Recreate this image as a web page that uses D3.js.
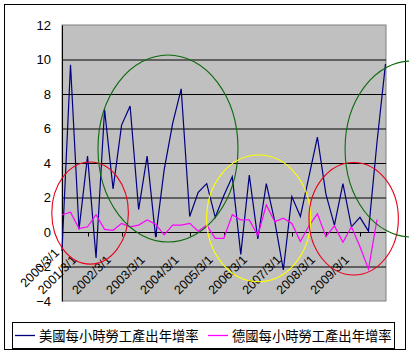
<!DOCTYPE html>
<html>
<head>
<meta charset="utf-8">
<script src="https://cdn.jsdelivr.net/npm/d3@7"></script>
<style>
  body { margin: 0; background: #fff; }
  .text { font-family: "Liberation Sans", Arial, sans-serif; fill: #000; }
</style>
</head>
<body>
<div class="chart"></div>
<script>
// quarterly yoy growth of labour output per hour
var usVals = [-1.1, 9.7, 0.15, 4.4, -1.5, 7.1, 2.5, 6.2, 7.3, 1.3,
              4.4, -0.3, 3.6, 6.3, 8.3, 0.9, 2.3, 2.8, 0.85, 2.1,
              3.2, -1.3, 3.3, -0.4, 2.8, 0.6, -2.2, 2.05, 0.9, 3.2,
              5.5, 2.2, 0.4, 2.8, 0.3, 0.85, 0.05, 5.2, 9.75];
var deVals = [1.0, 1.15, 0.2, 0.3, 1.0, 0.15, 0.1, 0.5, 0.3, 0.4,
              0.7, 0.45, -0.17, 0.4, 0.4, 0.5, 0.05, 0.4, -0.37, -0.37,
              1.0, 0.7, 0.7, -0.2, 1.57, 0.6, 0.8, 0.5, -0.55, 0.35,
              1.05, -0.27, 0.35, -0.6, 0.3, -0.85, -2.15, 0.72];
var xTickLabels = ['2000/3/1', '2001/3/1', '2002/3/1', '2003/3/1', '2004/3/1',
                   '2005/3/1', '2006/3/1', '2007/3/1', '2008/3/1', '2009/3/1'];
var xTickIdx = [0, 3, 7, 11, 15, 19, 23, 27, 31, 35];
var yTicks = [-4, -2, 0, 2, 4, 6, 8, 10, 12];
var seriesNames = ['美國每小時勞工產出年增率', '德國每小時勞工產出年增率'];
// hand drawn marks: centre (category, value), radius (categories, value units)
var markCx = [3.3, 12.45, 23.1, 34.26, 41.0];
var markCy = [1.1, 4.84, 0.79, 0.77, 4.81];
var markRx = [4.5, 8.22, 6.11, 5.25, 7.75];
var markRy = [2.96, 5.42, 3.67, 3.26, 5.1];
var markColor = ['#e8001c', '#0c6a0c', '#ffff00', '#e8001c', '#0c6a0c'];

var width = 409, height = 351;
var margin = { top: 25, left: 62, right: 23, bottom: 50 };
var plotR = width - margin.right, plotB = height - margin.bottom;

var svg = d3.select('.chart').append('svg')
    .attr('width', width)
    .attr('height', height);

// chart area frame
svg.append('rect')
    .attr('x', 4.5).attr('y', 4.5)
    .attr('width', 401).attr('height', 345)
    .attr('fill', '#fff').attr('stroke', '#000');

var x = d3.scaleLinear().domain([0, usVals.length - 1]).range([margin.left, plotR - 0.5]);
var y = d3.scaleLinear().domain([-4, 12]).range([plotB, margin.top]);

// plot area
svg.append('rect')
    .attr('x', margin.left).attr('y', margin.top)
    .attr('width', plotR - margin.left).attr('height', plotB - margin.top)
    .attr('fill', '#c0c0c0').attr('stroke', '#808080');

// gridlines
svg.append('g')
    .attr('class', 'grid')
    .attr('transform', 'translate(' + margin.left + ',0)')
    .call(d3.axisLeft(y).tickValues(yTicks.filter(function(v) { return v > -4 && v < 12; }))
        .tickSize(-(plotR - margin.left)).tickFormat(''))
    .call(function(g) {
        g.select('.domain').remove();
        g.selectAll('line').attr('stroke', '#000');
    });

// y axis
svg.append('g')
    .attr('transform', 'translate(' + margin.left + ',0)')
    .call(d3.axisLeft(y).tickValues(yTicks).tickSize(0).tickPadding(11))
    .call(function(g) {
        g.select('.domain').attr('stroke', '#000');
        g.selectAll('text').attr('class', 'text')
            .style('font-size', '13px');
    });

// category axis crossing at 0
var y0 = Math.round(y(0)) + 0.5;
svg.append('line')
    .attr('x1', margin.left).attr('x2', plotR)
    .attr('y1', y0).attr('y2', y0)
    .attr('stroke', '#000');

svg.selectAll('.xtick')
    .data(xTickIdx.slice(1))
    .enter()
    .append('line')
    .attr('class', 'xtick')
    .attr('x1', function(d) { return Math.round(x(d)) + 0.5; })
    .attr('x2', function(d) { return Math.round(x(d)) + 0.5; })
    .attr('y1', y0).attr('y2', y0 + 4)
    .attr('stroke', '#000');

// first label is pushed inside the chart frame
svg.selectAll('.xlabel')
    .data(xTickIdx)
    .enter()
    .append('text')
    .attr('class', 'text xlabel')
    .attr('text-anchor', 'end')
    .style('font-size', '12.5px')
    .attr('transform', function(d, i) {
        var lx = i === 0 ? x(d) - 2 : x(d) - 10;
        var ly = i === 0 ? y0 + 21 : y0 + 28;
        return 'translate(' + lx + ',' + ly + ') rotate(-45)';
    })
    .text(function(d, i) { return xTickLabels[i]; });

// lines
var line = d3.line()
    .x(function(d, i) { return x(i); })
    .y(function(d) { return y(d); });

svg.append('path')
    .datum(usVals)
    .attr('d', line)
    .attr('fill', 'none')
    .attr('stroke', '#000080')
    .attr('stroke-width', 1.2);

svg.append('path')
    .datum(deVals)
    .attr('d', line)
    .attr('fill', 'none')
    .attr('stroke', '#ff00ff')
    .attr('stroke-width', 1.2);

// ellipses drawn over the chart
svg.selectAll('.mark')
    .data(markCx)
    .enter()
    .append('ellipse')
    .attr('class', 'mark')
    .attr('cx', function(d) { return x(d); })
    .attr('cy', function(d, i) { return y(markCy[i]); })
    .attr('rx', function(d, i) { return x(markRx[i]) - x(0); })
    .attr('ry', function(d, i) { return y(0) - y(markRy[i]); })
    .attr('fill', 'none')
    .attr('stroke', function(d, i) { return markColor[i]; })
    .attr('stroke-width', 1.1);

// legend
var legend = svg.append('g');
legend.append('rect')
    .attr('x', 12.5).attr('y', 322.5)
    .attr('width', 382).attr('height', 26)
    .attr('fill', '#fff').attr('stroke', '#000');

var legX = [15, 208];
var legColor = ['#000080', '#ff00ff'];
seriesNames.forEach(function(name, i) {
    legend.append('line')
        .attr('x1', legX[i]).attr('x2', legX[i] + 20)
        .attr('y1', 335.5).attr('y2', 335.5)
        .attr('stroke', legColor[i]).attr('stroke-width', 1.3);
    legend.append('text')
        .attr('x', legX[i] + 24)
        .attr('y', 340.5)
        .style('font-family', '"Noto Sans CJK TC", sans-serif')
        .style('font-size', '13.3px')
        .text(name);
});
</script>
</body>
</html>
